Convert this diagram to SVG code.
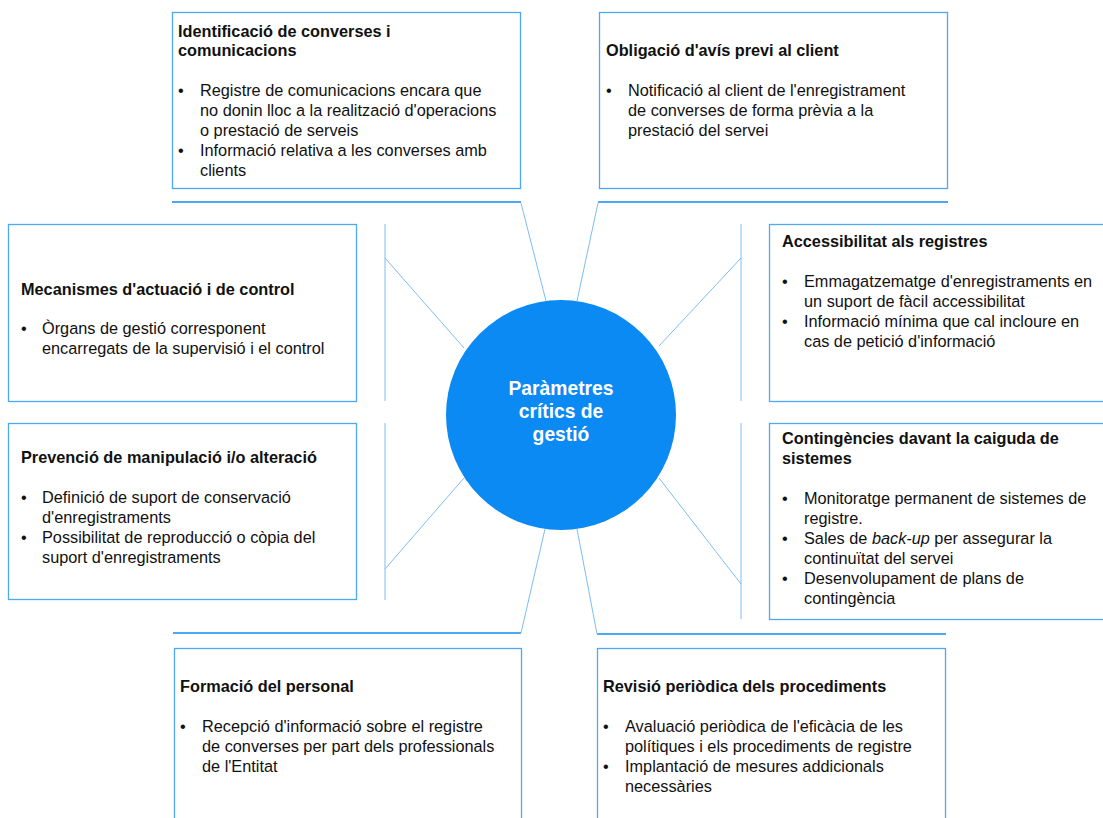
<svg xmlns="http://www.w3.org/2000/svg" width="1103" height="818" viewBox="0 0 1103 818">
<style>
.box{fill:#fff;stroke:#4da8f5;stroke-width:1.3}
.t{font-family:"Liberation Sans",Arial,sans-serif;font-size:16.3px;fill:#111}
.h{font-weight:bold}
.c{font-family:"Liberation Sans",Arial,sans-serif;font-size:19.3px;font-weight:bold;fill:#fff;text-anchor:middle}
.ln{stroke:#7dbdf5;stroke-width:1;fill:none}
.hl{stroke:#4da8f5;stroke-width:2;fill:none}
</style>
<rect width="1103" height="818" fill="#fff"/>
<g id="connectors">
<line class="hl" x1="172" y1="202" x2="521" y2="202"/>
<line class="ln" x1="521" y1="203" x2="546" y2="301"/>
<line class="hl" x1="598" y1="202" x2="948" y2="202"/>
<line class="ln" x1="598" y1="203" x2="577" y2="301"/>
<line class="ln" x1="385" y1="224" x2="385" y2="401"/>
<line class="ln" x1="385" y1="258" x2="464" y2="348"/>
<line class="ln" x1="741" y1="224" x2="741" y2="401"/>
<line class="ln" x1="741" y1="258" x2="659" y2="346"/>
<line class="ln" x1="385" y1="423" x2="385" y2="600"/>
<line class="ln" x1="385" y1="569" x2="464" y2="478"/>
<line class="ln" x1="741" y1="423" x2="741" y2="619"/>
<line class="ln" x1="741" y1="584" x2="659" y2="478"/>
<line class="hl" x1="173" y1="633" x2="521" y2="633"/>
<line class="ln" x1="521" y1="633" x2="545" y2="529"/>
<line class="hl" x1="597" y1="634" x2="946" y2="634"/>
<line class="ln" x1="597" y1="634" x2="577" y2="529"/>
</g>
<g id="center">
<circle cx="561" cy="415" r="115" fill="#0a8af2"/>
<text class="c" x="561" y="395">Paràmetres</text>
<text class="c" x="561" y="418">crítics de</text>
<text class="c" x="561" y="441">gestió</text>
</g>
<g id="n1">
<rect class="box" x="172.5" y="12.5" width="348" height="176"/>
<text class="t h" x="178" y="37">Identificació de converses i</text>
<text class="t h" x="178" y="56">comunicacions</text>
<text class="t" x="178" y="96">•</text>
<text class="t" x="200" y="96">Registre de comunicacions encara que</text>
<text class="t" x="200" y="116">no donin lloc a la realització d'operacions</text>
<text class="t" x="200" y="136">o prestació de serveis</text>
<text class="t" x="178" y="156">•</text>
<text class="t" x="200" y="156">Informació relativa a les converses amb</text>
<text class="t" x="200" y="176">clients</text>
</g>
<g id="n2">
<rect class="box" x="599.5" y="12.5" width="348" height="176"/>
<text class="t h" x="606" y="56">Obligació d'avís previ al client</text>
<text class="t" x="606" y="96">•</text>
<text class="t" x="628" y="96">Notificació al client de l'enregistrament</text>
<text class="t" x="628" y="116">de converses de forma prèvia a la</text>
<text class="t" x="628" y="136">prestació del servei</text>
</g>
<g id="n3">
<rect class="box" x="8.5" y="224.5" width="348" height="177"/>
<text class="t h" x="21" y="295">Mecanismes d'actuació i de control</text>
<text class="t" x="21" y="334">•</text>
<text class="t" x="42" y="334">Òrgans de gestió corresponent</text>
<text class="t" x="42" y="354">encarregats de la supervisió i el control</text>
</g>
<g id="n4">
<rect class="box" x="769.5" y="224.5" width="345" height="177"/>
<text class="t h" x="782" y="247">Accessibilitat als registres</text>
<text class="t" x="782" y="287">•</text>
<text class="t" x="804" y="287">Emmagatzematge d'enregistraments en</text>
<text class="t" x="804" y="307">un suport de fàcil accessibilitat</text>
<text class="t" x="782" y="327">•</text>
<text class="t" x="804" y="327">Informació mínima que cal incloure en</text>
<text class="t" x="804" y="347">cas de petició d'informació</text>
</g>
<g id="n5">
<rect class="box" x="8.5" y="423.5" width="348" height="176"/>
<text class="t h" x="21" y="463">Prevenció de manipulació i/o alteració</text>
<text class="t" x="21" y="503">•</text>
<text class="t" x="42" y="503">Definició de suport de conservació</text>
<text class="t" x="42" y="523">d'enregistraments</text>
<text class="t" x="21" y="543">•</text>
<text class="t" x="42" y="543">Possibilitat de reproducció o còpia del</text>
<text class="t" x="42" y="563">suport d'enregistraments</text>
</g>
<g id="n6">
<rect class="box" x="769.5" y="423.5" width="345" height="196"/>
<text class="t h" x="782" y="444">Contingències davant la caiguda de</text>
<text class="t h" x="782" y="464">sistemes</text>
<text class="t" x="782" y="504">•</text>
<text class="t" x="804" y="504">Monitoratge permanent de sistemes de</text>
<text class="t" x="804" y="524">registre.</text>
<text class="t" x="782" y="544">•</text>
<text class="t" x="804" y="544">Sales de <tspan font-style="italic">back-up</tspan> per assegurar la</text>
<text class="t" x="804" y="564">continuïtat del servei</text>
<text class="t" x="782" y="584">•</text>
<text class="t" x="804" y="584">Desenvolupament de plans de</text>
<text class="t" x="804" y="604">contingència</text>
</g>
<g id="n7">
<rect class="box" x="174.5" y="648.5" width="347" height="190"/>
<text class="t h" x="180" y="692">Formació del personal</text>
<text class="t" x="180" y="732">•</text>
<text class="t" x="202" y="732">Recepció d'informació sobre el registre</text>
<text class="t" x="202" y="752">de converses per part dels professionals</text>
<text class="t" x="202" y="772">de l'Entitat</text>
</g>
<g id="n8">
<rect class="box" x="597.5" y="648.5" width="348" height="190"/>
<text class="t h" x="603" y="692">Revisió periòdica dels procediments</text>
<text class="t" x="603" y="732">•</text>
<text class="t" x="625" y="732">Avaluació periòdica de l'eficàcia de les</text>
<text class="t" x="625" y="752">polítiques i els procediments de registre</text>
<text class="t" x="603" y="772">•</text>
<text class="t" x="625" y="772">Implantació de mesures addicionals</text>
<text class="t" x="625" y="792">necessàries</text>
</g>
</svg>
